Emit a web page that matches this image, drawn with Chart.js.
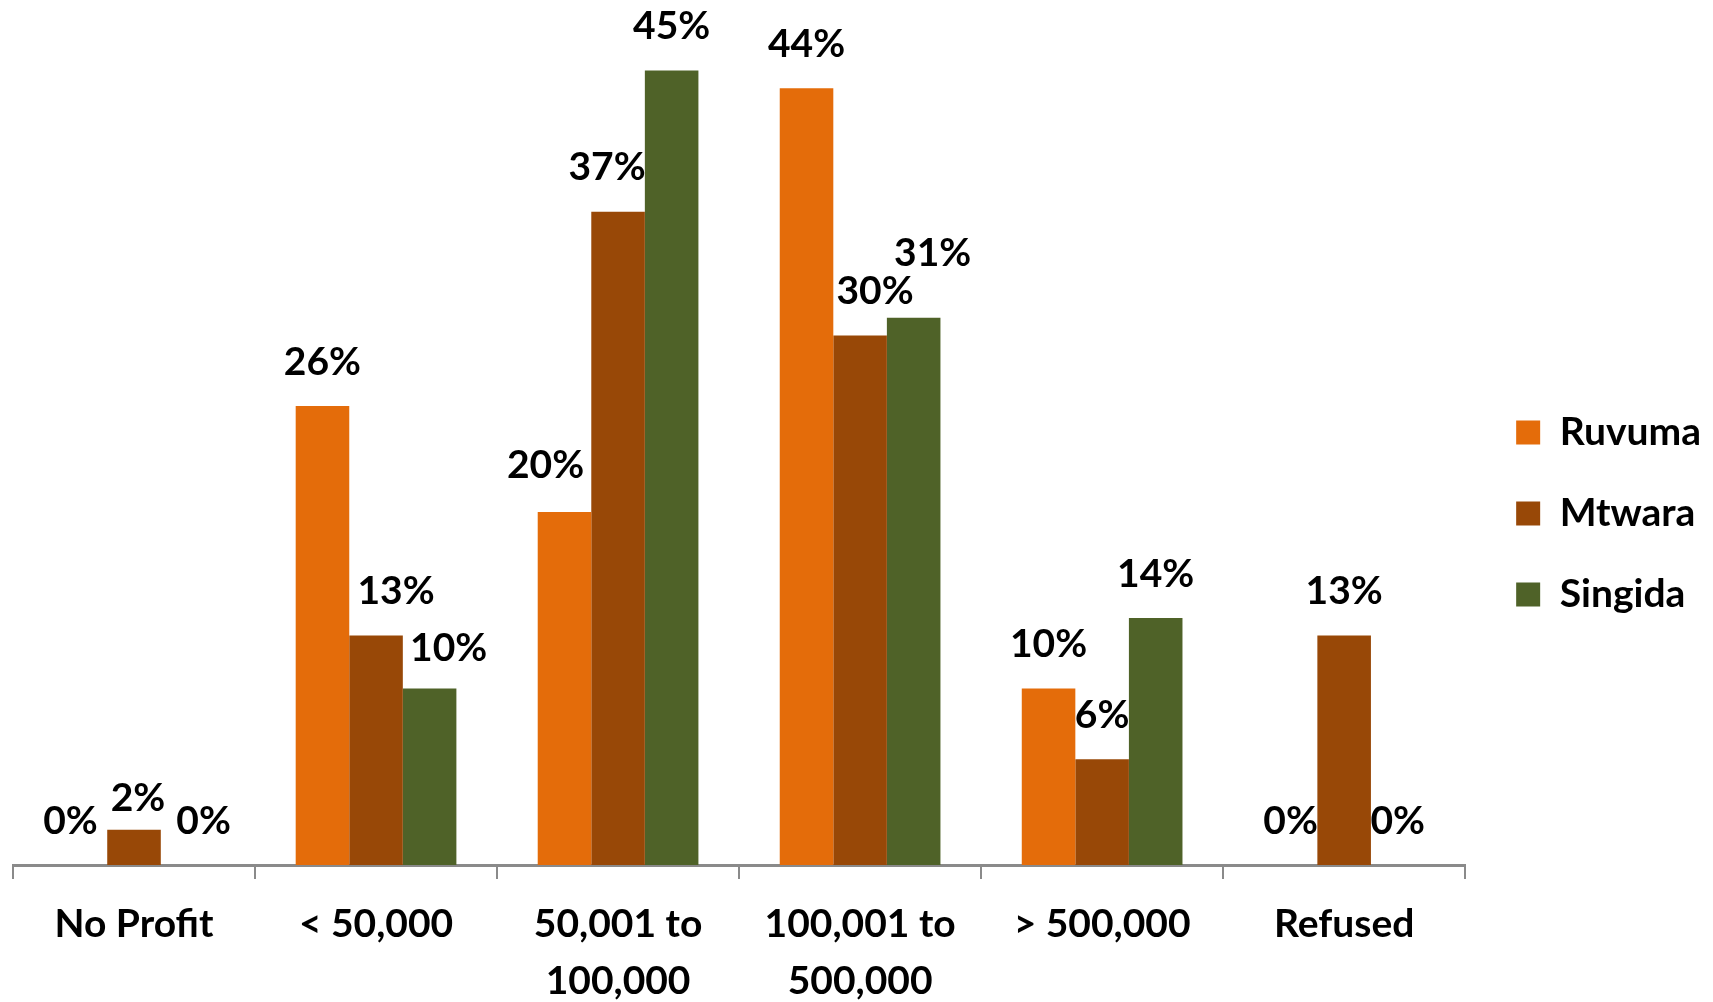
<!DOCTYPE html>
<html lang="en">
<head>
    <meta charset="UTF-8">
    <title>Profit by region</title>
    <style>
        html, body { margin: 0; padding: 0; background: #fff; overflow: hidden; }
        .chart-box { position: relative; width: 1713px; height: 1027px; }
    </style>
</head>
<body>
    <div class="chart-box">
        <canvas id="myChart"></canvas>
    </div>

    <script src="https://cdn.jsdelivr.net/npm/chart.js@4.4.1/dist/chart.umd.min.js"></script>
    <script>
        var categories = ['No Profit', '< 50,000', ['50,001 to', '100,000'], ['100,001 to', '500,000'], '> 500,000', 'Refused'];
        var regions = ['Ruvuma', 'Mtwara', 'Singida'];
        var ruvuma = [0, 26, 20, 44, 10, 0];
        var mtwara = [2, 13, 37, 30, 6, 13];
        var singida = [0, 10, 45, 31, 14, 0];
        var colors = ['#E46C0A', '#984807', '#4F6228'];

        // small nudges so labels don't sit on top of each other
        var shiftX = [[-10, 0, -19, 0, 0, 0], [4, 20, -11, 15, 0, 0], [16, 19, 0, 19, 0, 0]];
        var shiftY = [[0, 0, -3, 0, 0, 0], [13, 0, 0, 0, 0, 0], [0, 4, 0, -20, 0, 0]];

        var FONT = 'Lato, "Liberation Sans", sans-serif';
        var SIZE = 39;

        var valueLabels = {
            id: 'valueLabels',
            afterDatasetsDraw: function(chart) {
                var ctx = chart.ctx;
                ctx.save();
                ctx.font = 'bold ' + SIZE + 'px ' + FONT;
                ctx.fillStyle = '#000';
                ctx.textAlign = 'center';
                ctx.textBaseline = 'middle';
                chart.data.datasets.forEach(function(ds, i) {
                    chart.getDatasetMeta(i).data.forEach(function(bar, j) {
                        ctx.fillText(ds.data[j] + '%', bar.x + shiftX[i][j], bar.y - 44 + shiftY[i][j]);
                    });
                });
                ctx.restore();
            }
        };

        var series = [ruvuma, mtwara, singida];
        var ctx = document.getElementById('myChart').getContext('2d');
        var myChart = new Chart(ctx, {
            type: 'bar',
            data: {
                labels: categories,
                datasets: series.map(function(d, i) {
                    return { label: regions[i], data: d, backgroundColor: colors[i], borderWidth: 0 };
                })
            },
            options: {
                responsive: true,
                maintainAspectRatio: false,
                animation: false,
                categoryPercentage: 0.664,
                barPercentage: 1.0,
                layout: { padding: { left: 13, right: 2, top: 0, bottom: 0 } },
                plugins: {
                    tooltip: { enabled: false },
                    legend: {
                        position: 'right',
                        labels: {
                            color: '#000',
                            font: { family: FONT, size: SIZE, weight: 'bold' },
                            boxWidth: 24,
                            boxHeight: 24,
                            padding: 42
                        }
                    }
                },
                scales: {
                    x: {
                        offset: true,
                        grid: { display: true, drawOnChartArea: false, drawTicks: true, tickLength: 14, color: '#8a8a8a', lineWidth: 2 },
                        border: { display: true, color: '#8a8a8a', width: 3 },
                        ticks: {
                            color: '#000',
                            padding: 17,
                            maxRotation: 0,
                            autoSkip: false,
                            font: { family: FONT, size: SIZE, weight: 'bold', lineHeight: 1.46 }
                        }
                    },
                    y: {
                        position: 'right',
                        min: 0,
                        max: 49,
                        grid: { display: false },
                        border: { display: false },
                        ticks: { display: false },
                        afterFit: function(scale) { scale.width = 9; }
                    }
                }
            },
            plugins: [valueLabels]
        });
    </script>
</body>
</html>
